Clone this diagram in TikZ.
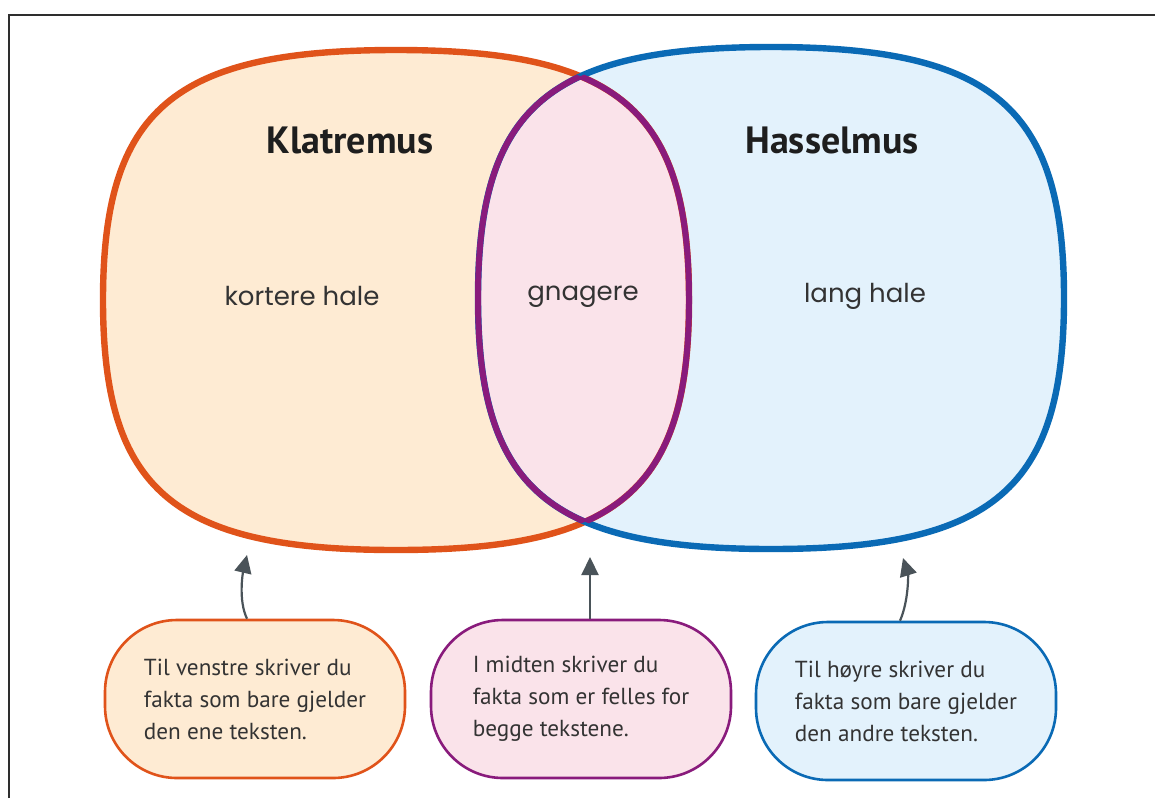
\documentclass[tikz,border=0pt]{standalone}
\usepackage{fontspec}
\setmainfont{PT Sans}
\newfontfamily\geo{Poppins}
\usetikzlibrary{arrows.meta}
\definecolor{orS}{HTML}{E0531A}
\definecolor{orF}{HTML}{FEEBD3}
\definecolor{blS}{HTML}{0A6AB5}
\definecolor{blF}{HTML}{E3F2FC}
\definecolor{lnS}{HTML}{891B7C}
\definecolor{lnF}{HTML}{FAE3EA}
\definecolor{txt}{HTML}{1E1E1E}
\definecolor{txtb}{HTML}{333333}
\definecolor{arrC}{HTML}{4A5359}
\definecolor{frameC}{HTML}{2E2E2E}
\begin{document}
\begin{tikzpicture}[x=0.5pt,y=-0.5pt,
  blobline/.style={line width=3.2pt},
  lensline/.style={line width=3pt, draw=lnS},
  title/.style={font=\fontsize{19}{22}\selectfont\bfseries, text=txt},
  lbl/.style={font=\geo\fontsize{13}{16}\selectfont, text=txtb},
  note/.style={rounded corners=36pt, line width=1.3pt, minimum width=150pt, minimum height=79pt, align=left, font=\fontsize{11.6}{16}\selectfont, text=txtb},
  arr/.style={draw=arrC, line width=1.1pt, -{Triangle[length=9pt,width=8.5pt]}},
  frame/.style={draw=frameC, line width=1pt}]

\useasboundingbox (0,0) rectangle (1155,798);
\fill[white] (0,0) rectangle (1155,798);
\draw[frame] (9,798) -- (9,15) -- (1155,15);

% fills
\fill[orF] (103,300) .. controls (103,110) and (173,50) .. (396,50) .. controls (619,50) and (689,110) .. (689,300) .. controls (689,490) and (619,550) .. (396,550) .. controls (173,550) and (103,490) .. cycle;
\fill[blF] (478,298) .. controls (478,108) and (548,47) .. (771,47) .. controls (994,47) and (1064,108) .. (1064,298) .. controls (1064,488) and (994,549) .. (771,549) .. controls (548,549) and (478,488) .. cycle;
\begin{scope}
\clip (103,300) .. controls (103,110) and (173,50) .. (396,50) .. controls (619,50) and (689,110) .. (689,300) .. controls (689,490) and (619,550) .. (396,550) .. controls (173,550) and (103,490) .. cycle;
\fill[lnF] (478,298) .. controls (478,108) and (548,47) .. (771,47) .. controls (994,47) and (1064,108) .. (1064,298) .. controls (1064,488) and (994,549) .. (771,549) .. controls (548,549) and (478,488) .. cycle;
\end{scope}

% outlines
\draw[orS, blobline] (103,300) .. controls (103,110) and (173,50) .. (396,50) .. controls (619,50) and (689,110) .. (689,300) .. controls (689,490) and (619,550) .. (396,550) .. controls (173,550) and (103,490) .. cycle;
\draw[blS, blobline] (478,298) .. controls (478,108) and (548,47) .. (771,47) .. controls (994,47) and (1064,108) .. (1064,298) .. controls (1064,488) and (994,549) .. (771,549) .. controls (548,549) and (478,488) .. cycle;
\begin{scope}
\clip (103,300) .. controls (103,110) and (173,50) .. (396,50) .. controls (619,50) and (689,110) .. (689,300) .. controls (689,490) and (619,550) .. (396,550) .. controls (173,550) and (103,490) .. cycle;
\draw[lensline] (478,298) .. controls (478,108) and (548,47) .. (771,47) .. controls (994,47) and (1064,108) .. (1064,298) .. controls (1064,488) and (994,549) .. (771,549) .. controls (548,549) and (478,488) .. cycle;
\end{scope}
\begin{scope}
\clip (478,298) .. controls (478,108) and (548,47) .. (771,47) .. controls (994,47) and (1064,108) .. (1064,298) .. controls (1064,488) and (994,549) .. (771,549) .. controls (548,549) and (478,488) .. cycle;
\draw[lensline] (103,300) .. controls (103,110) and (173,50) .. (396,50) .. controls (619,50) and (689,110) .. (689,300) .. controls (689,490) and (619,550) .. (396,550) .. controls (173,550) and (103,490) .. cycle;
\end{scope}

% texts
\node[title] (t1) at (350,140) {Klatremus};
\node[title] (t2) at (832,140) {Hasselmus};
\node[lbl] (l1) at (302,296) {kortere hale};
\node[lbl] (l2) at (583,297) {gnagere};
\node[lbl] (l3) at (865,296) {lang hale};

% notes
\node[note, draw=orS, fill=orF] (lbox) at (255,699) {Til venstre skriver du\\fakta som bare gjelder\\den ene teksten.};
\node[note, draw=lnS, fill=lnF] (mbox) at (581,699) {I midten skriver du\\fakta som er felles for\\begge tekstene.};
\node[note, draw=blS, fill=blF] (rbox) at (906,701) {Til høyre skriver du\\fakta som bare gjelder\\den andre teksten.};

% arrows
\coordinate (lt) at (247,555);
\coordinate (mt) at (590,557);
\coordinate (rt) at (903,558);
\draw[arr] (lt |- lbox.north) .. controls (238,600) and (243,572) .. (lt);
\draw[arr] (mt |- mbox.north) -- (mt);
\draw[arr] (900,622 |- rbox.north) .. controls (909,600) and (908,574) .. (rt);
\end{tikzpicture}
\end{document}
